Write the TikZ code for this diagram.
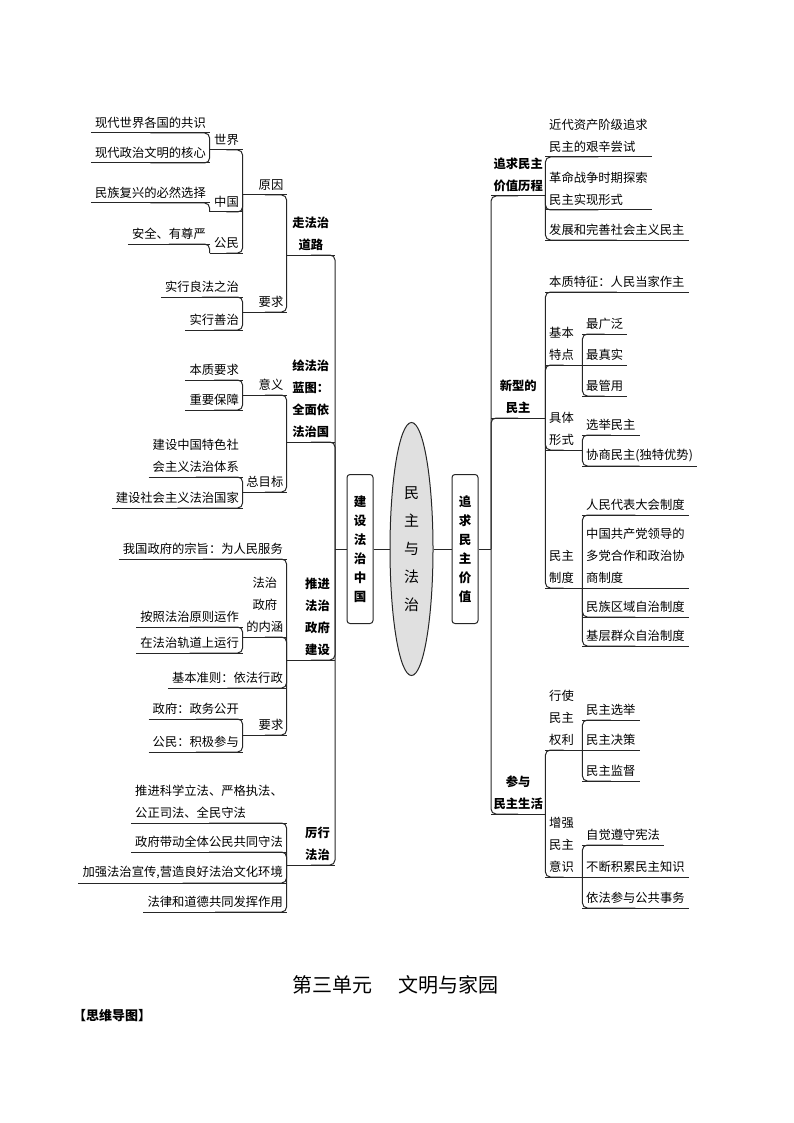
\documentclass[tikz,border=0pt]{standalone}
\usepackage{fontspec}
\newfontfamily\cjk{Noto Sans CJK SC}
\usetikzlibrary{shapes.geometric}

\tikzset{
  line/.style={line width=1pt, draw=black!85},
  conn/.style={line, rounded corners=5pt},
  ul/.style={append after command={(\tikzlastnode.south west) edge[line] (\tikzlastnode.south east)}},
  txt/.style={font=\cjk\fontsize{12.3}{22}\selectfont, inner xsep=4pt, inner ysep=4pt, ul},
  bold/.style={font=\cjk\bfseries\fontsize{12.3}{22}\selectfont},
  lleaf/.style={txt, anchor=south east, align=left},
  rleaf/.style={txt, anchor=south west, align=left},
  lmain/.style={txt, bold, anchor=south east, text width=38pt, inner xsep=5pt, align=center},
  lsub/.style={txt, anchor=south east, text width=37pt, inner xsep=3.5pt, align=right},
  ltip/.style={txt, anchor=south east, text width=25pt, inner xsep=4pt, align=right},
  rmain/.style={txt, bold, anchor=south west, text width=50pt, inner xsep=2pt, align=center},
  rsub/.style={txt, anchor=south west, text width=29pt, inner xsep=4pt, align=left},
  rootbox/.style={line, draw, rounded corners=3pt, minimum width=26pt, minimum height=149pt,
    inner sep=0pt, align=center, font=\cjk\bfseries\fontsize{12.5}{19}\selectfont},
  hub/.style={ellipse, line, draw, fill=black!12, minimum width=43pt, minimum height=253pt,
    inner sep=0pt, align=center, font=\cjk\fontsize{15}{28}\selectfont}
}

\begin{document}
\begin{tikzpicture}[x=1pt,y=-1pt]
\useasboundingbox (0,0) rectangle (794,1123);

% centre
\node[rootbox] (lroot) at (360,549) {建\\设\\法\\治\\中\\国};
\node[hub] (core) at (411.5,549) {民\\主\\与\\法\\治};
\node[rootbox] (rroot) at (465,549) {追\\求\\民\\主\\价\\值};
\coordinate (ltr) at (335,549);
\coordinate (rtr) at (491,549);
\draw[line] (lroot.east) -- (core.west);
\draw[line] (core.east) -- (rroot.west);
\draw[line] (lroot.west) -- (ltr);
\draw[line] (rroot.east) -- (rtr);

% left half
\node[lmain] (road) at (335,255) {走法治\\道路};
\node[lmain] (plan) at (335,442) {绘法治\\蓝图：\\全面依\\法治国};
\node[lmain, align=right] (gov) at (335,660) {推进\\法治\\政府\\建设};
\node[lmain, align=right] (rule) at (335,865) {厉行\\法治};

\node[lsub] (why) at (287,195) {原因};
\node[lsub] (req) at (287,312) {要求};
\node[ltip] (world) at (243,150) {世界};
\node[ltip] (china) at (243,212) {中国};
\node[ltip] (citizen) at (243,253) {公民};
\node[lleaf] (w1) at (210,133) {现代世界各国的共识};
\node[lleaf] (w2) at (210,163) {现代政治文明的核心};
\node[lleaf] (c1) at (210,203) {民族复兴的必然选择};
\node[lleaf] (z1) at (210,244) {安全、有尊严};
\node[lleaf] (q1) at (243,297) {实行良法之治};
\node[lleaf] (q2) at (243,330) {实行善治};

\node[lsub] (mean) at (287,395) {意义};
\node[lsub] (goal) at (287,492) {总目标};
\node[lleaf] (m1) at (243,380) {本质要求};
\node[lleaf] (m2) at (243,410) {重要保障};
\node[lleaf] (g1) at (243,477) {建设中国特色社\\会主义法治体系};
\node[lleaf] (g2) at (243,508) {建设社会主义法治国家};

\node[lleaf] (gv1) at (287,559) {我国政府的宗旨：为人民服务};
\node[lsub, align=center] (gist) at (287,637) {法治\\政府\\的内涵};
\node[lleaf] (gv2) at (287,688) {基本准则：依法行政};
\node[lsub] (greq) at (287,735) {要求};
\node[lleaf] (n1) at (243,627) {按照法治原则运作};
\node[lleaf] (n2) at (243,653) {在法治轨道上运行};
\node[lleaf] (r1) at (243,719) {政府：政务公开};
\node[lleaf] (r2) at (243,752) {公民：积极参与};

\node[lleaf] (f1) at (287,823) {推进科学立法、严格执法、\\公正司法、全民守法};
\node[lleaf] (f2) at (287,852) {政府带动全体公民共同守法};
\node[lleaf] (f3) at (287,883) {加强法治宣传,营造良好法治文化环境};
\node[lleaf] (f4) at (287,912) {法律和道德共同发挥作用};

% right half
\node[rmain] (hist) at (491,196) {追求民主\\价值历程};
\node[rmain] (newd) at (491,418) {新型的\\民主};
\node[rmain] (part) at (491,814) {参与\\民主生活};

\node[rleaf] (h1) at (545,157) {近代资产阶级追求\\民主的艰辛尝试};
\node[rleaf] (h2) at (545,210) {革命战争时期探索\\民主实现形式};
\node[rleaf] (h3) at (545,240) {发展和完善社会主义民主};

\node[rleaf] (ess) at (545,292) {本质特征：人民当家作主};
\node[rsub] (feat) at (545,365) {基本\\特点};
\node[rsub] (form) at (545,450) {具体\\形式};
\node[rsub] (inst) at (545,588) {民主\\制度};
\node[rleaf] (t1) at (582,334) {最广泛};
\node[rleaf] (t2) at (582,365) {最真实};
\node[rleaf] (t3) at (582,396) {最管用};
\node[rleaf] (s1) at (582,435) {选举民主};
\node[rleaf] (s2) at (582,466) {协商民主(独特优势)};
\node[rleaf] (i1) at (582,515) {人民代表大会制度};
\node[rleaf] (i2) at (582,588) {中国共产党领导的\\多党合作和政治协\\商制度};
\node[rleaf] (i3) at (582,617) {民族区域自治制度};
\node[rleaf] (i4) at (582,646) {基层群众自治制度};

\node[rsub] (rights) at (545,750) {行使\\民主\\权利};
\node[rsub] (aware) at (545,877) {增强\\民主\\意识};
\node[rleaf] (p1) at (582,720) {民主选举};
\node[rleaf] (p2) at (582,750) {民主决策};
\node[rleaf] (p3) at (582,781) {民主监督};
\node[rleaf] (a1) at (582,845) {自觉遵守宪法};
\node[rleaf] (a2) at (582,877) {不断积累民主知识};
\node[rleaf] (a3) at (582,908) {依法参与公共事务};

% connectors
\foreach \k in {road,plan,gov,rule}
  \draw[conn] (ltr) |- (\k.south);
\foreach \k in {hist,newd,part}
  \draw[conn] (rtr) |- (\k.south);
\foreach \p/\k in {road/why, road/req, why/world, why/china, why/citizen,
    world/w1, world/w2, china/c1, citizen/z1, req/q1, req/q2,
    plan/mean, plan/goal, mean/m1, mean/m2, goal/g1, goal/g2,
    gov/gv1, gov/gist, gov/gv2, gov/greq, gist/n1, gist/n2, greq/r1, greq/r2,
    rule/f1, rule/f2, rule/f3, rule/f4}
  \draw[conn] (\p.south west) |- (\k.south);
\foreach \p/\k in {hist/h1, hist/h2, hist/h3, newd/ess, newd/feat, newd/form, newd/inst,
    feat/t1, feat/t3, form/s1, form/s2, inst/i1, inst/i3, inst/i4,
    part/rights, part/aware, rights/p1, rights/p3, aware/a1, aware/a3}
  \draw[conn] (\p.south east) |- (\k.south);
\foreach \p/\k in {feat/t2, inst/i2, rights/p2, aware/a2}
  \draw[conn] (\p.south east) -- (\k.south);

% footer
\node[font=\cjk\fontsize{20}{21}\selectfont] (unit) at (395,985) {第三单元\hspace{26pt}文明与家园};
\node[font=\cjk\bfseries\fontsize{13}{14}\selectfont, anchor=west, inner sep=0pt] (tag) at (73,1016) {【思维导图】};
\end{tikzpicture}
\end{document}
